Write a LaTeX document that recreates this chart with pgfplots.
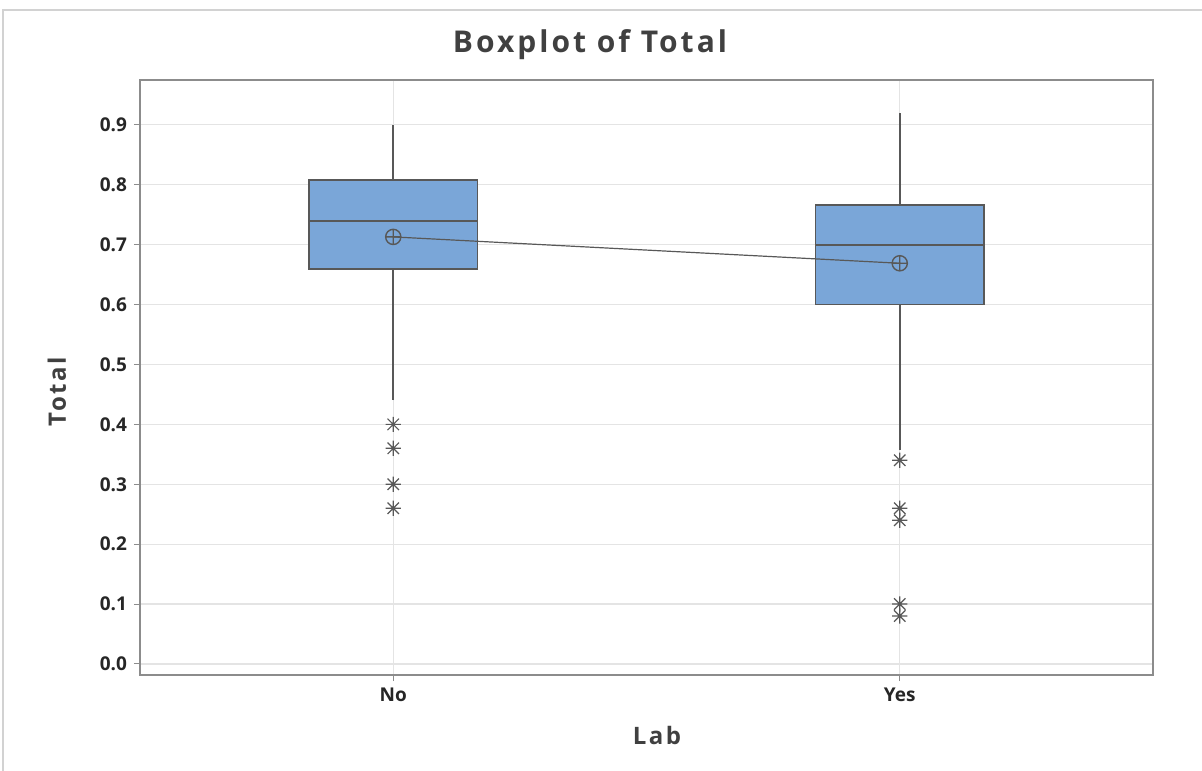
\documentclass[border=0pt]{standalone}
\usepackage{pgfplots}
\pgfplotsset{compat=1.18}
\usepgfplotslibrary{statistics}
\usetikzlibrary{plotmarks}
\usepackage{fontspec}
\setmainfont{Open Sans}
\newfontfamily\spacedfont[LetterSpace=10]{Open Sans}
\definecolor{boxfill}{RGB}{122,166,216}
\definecolor{boxline}{RGB}{88,88,88}
\definecolor{gridc}{RGB}{228,228,228}
\definecolor{framec}{RGB}{140,140,140}
\definecolor{txt}{RGB}{64,64,64}
\pgfdeclareplotmark{mstar}{%
  \pgfpathmoveto{\pgfqpoint{-\pgfplotmarksize}{0pt}}\pgfpathlineto{\pgfqpoint{\pgfplotmarksize}{0pt}}%
  \pgfpathmoveto{\pgfqpoint{0pt}{-\pgfplotmarksize}}\pgfpathlineto{\pgfqpoint{0pt}{\pgfplotmarksize}}%
  \pgfpathmoveto{\pgfqpoint{-0.75\pgfplotmarksize}{-0.75\pgfplotmarksize}}\pgfpathlineto{\pgfqpoint{0.75\pgfplotmarksize}{0.75\pgfplotmarksize}}%
  \pgfpathmoveto{\pgfqpoint{-0.75\pgfplotmarksize}{0.75\pgfplotmarksize}}\pgfpathlineto{\pgfqpoint{0.75\pgfplotmarksize}{-0.75\pgfplotmarksize}}%
  \pgfusepathqstroke}
\begin{document}
\begin{tikzpicture}
\path[use as bounding box] (-70pt,-47.5pt) rectangle (531pt,337.5pt);
\draw[gray!35, line width=0.8pt] (-68.5pt,-50pt) -- (-68.5pt,332.5pt) -- (540pt,332.5pt);
\begin{axis}[
  at={(0,0)}, anchor=south west,
  scale only axis, width=506.5pt, height=297.5pt,
  xmin=0.5, xmax=2.5, ymin=-0.0184, ymax=0.975,
  xtick={1,2}, xticklabels={No,Yes},
  ytick={0,0.1,...,0.9},
  yticklabel style={/pgf/number format/.cd, fixed, fixed zerofill, precision=1, assume math mode=true},
  ticklabel style={font=\fontsize{9.5}{11}\selectfont\bfseries, text=black!85},
  tick align=outside, tick style={framec, line width=0.5pt}, major tick length=3pt,
  xtick pos=bottom, ytick pos=left,
  grid=major, major grid style={gridc, line width=0.6pt},
  axis line style={framec, line width=0.8pt},
  clip=false,
  boxplot/draw direction=y,
]
\addplot+[boxplot prepared={draw position=1, lower whisker=0.44, lower quartile=0.66, median=0.74, upper quartile=0.808, upper whisker=0.90, box extend=0.333, whisker extend=0},
  draw=boxline, fill=boxfill, line width=0.85pt, solid, mark=mstar, mark size=3.8pt, mark options={draw=boxline, line width=0.6pt, fill=none}]
  table[row sep=\\, y index=0] {0.40\\0.36\\0.30\\0.26\\};
\addplot+[boxplot prepared={draw position=2, lower whisker=0.357, lower quartile=0.60, median=0.70, upper quartile=0.766, upper whisker=0.92, box extend=0.333, whisker extend=0},
  draw=boxline, fill=boxfill, line width=0.85pt, solid, mark=mstar, mark size=3.8pt, mark options={draw=boxline, line width=0.6pt, fill=none}]
  table[row sep=\\, y index=0] {0.34\\0.26\\0.24\\0.10\\0.08\\};
\addplot[boxline, line width=0.6pt, mark=oplus, mark size=3.8pt, mark options={line width=0.7pt}] coordinates {(1,0.713) (2,0.669)};
\end{axis}
\node[text=txt, font=\fontsize{15}{18}\spacedfont\bfseries] at (225pt,315pt) {Boxplot of Total};
\node[text=txt, font=\fontsize{12}{15}\spacedfont\bfseries, rotate=90] at (-41.5pt,141.5pt) {Total};
\node[text=txt, font=\fontsize{12}{15}\spacedfont\bfseries] at (258.5pt,-30pt) {Lab};
\end{tikzpicture}
\end{document}
